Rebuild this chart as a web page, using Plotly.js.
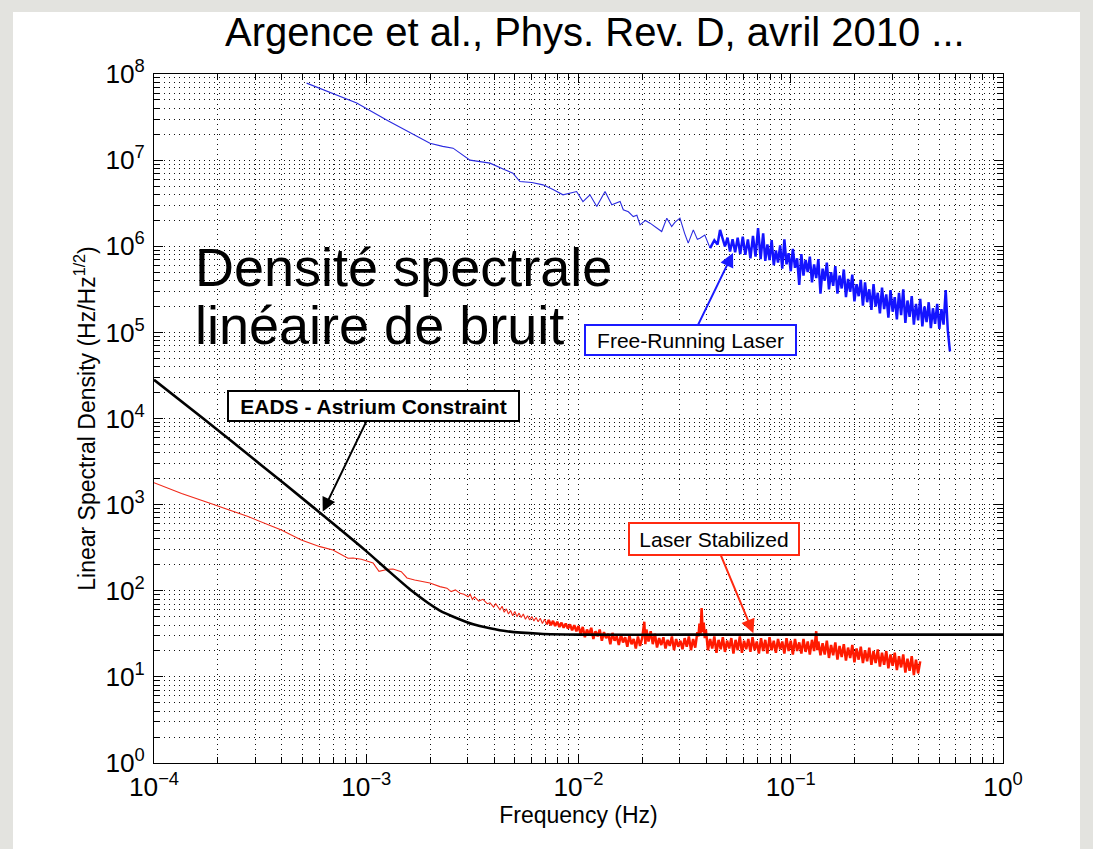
<!DOCTYPE html>
<html>
<head>
<meta charset="utf-8">
<script src="https://cdn.plot.ly/plotly-3.0.1.min.js"></script>
<style>
  html, body { margin: 0; padding: 0; width: 1093px; height: 849px; overflow: hidden; background: #e3e3df; }
  #card { position: absolute; left: 13px; top: 12px; width: 1067px; height: 837px; background: #ffffff; }
  #plot { position: absolute; left: 0; top: 0; width: 1093px; height: 849px; }
</style>
</head>
<body>
<div id="card"></div>
<div id="plot"></div>
<script>
// Values, stored as decades (log10 of Hz and of Hz/Hz^1/2)
const freeRunLogF = [
  -3.281,-3.15,-3.045,-2.90,-2.80,-2.70,-2.64,-2.591,-2.511,-2.417,
  -2.35,-2.309,-2.276,-2.22,-2.167,-2.12,-2.073,-2.04,-2.009,-1.979,
  -1.946,-1.914,-1.875,-1.843,-1.804,-1.789,-1.765,-1.742,-1.725,-1.71,
  -1.685,-1.663,-1.635,-1.608,-1.584,-1.561,-1.545,-1.522,-1.50,-1.483,
  -1.459,-1.44,-1.428,-1.405,-1.38,-1.36,-1.345,-1.333,-1.31,-1.298,
  -1.286,-1.274,-1.262,-1.250,-1.238,-1.226,-1.214,-1.202,-1.190,-1.178,
  -1.166,-1.154,-1.142,-1.130,-1.120,
  -1.11,-1.10,-1.09,-1.08,-1.07,-1.06,-1.05,-1.04,-1.03,-1.02,
  -1.01,-1.00,-0.99,-0.98,-0.97,-0.96,-0.95,-0.94,-0.93,-0.92,
  -0.91,-0.90,-0.89,-0.88,-0.87,-0.86,-0.85,-0.84,-0.83,-0.82,
  -0.81,-0.80,-0.79,-0.78,-0.77,-0.76,-0.75,-0.74,-0.73,-0.72,
  -0.71,-0.70,-0.69,-0.68,-0.67,-0.66,-0.65,-0.64,-0.63,-0.62,
  -0.61,-0.60,-0.59,-0.58,-0.57,-0.56,-0.55,-0.54,-0.53,-0.52,
  -0.51,-0.50,-0.49,-0.48,-0.47,-0.46,-0.45,-0.44,-0.43,-0.42,
  -0.41,-0.40,-0.39,-0.38,-0.37,-0.36,-0.35,-0.34,-0.33,-0.32,
  -0.31,-0.30,-0.29,-0.28,-0.27,-0.26,-0.25
];
const freeRunLogPSD = [
  7.894,7.77,7.662,7.46,7.33,7.197,7.16,7.139,7.00,6.965,
  6.89,6.849,6.751,6.74,6.713,6.66,6.597,6.62,6.635,6.519,
  6.597,6.461,6.635,6.481,6.519,6.423,6.40,6.345,6.36,6.249,
  6.30,6.268,6.22,6.171,6.326,6.229,6.28,6.326,6.15,6.036,
  6.19,6.08,6.094,6.13,5.978,6.07,6.02,6.19,5.997,6.10,
  5.939,6.08,5.93,6.10,5.91,6.11,5.90,6.08,5.86,6.12,
  5.88,6.21,5.85,6.15,5.83,
  6.02,5.84,6.07,5.78,5.95,5.81,6.01,5.74,6.08,5.79,
  5.92,5.71,5.97,5.75,5.86,5.55,5.91,5.66,5.84,5.70,
  5.88,5.58,5.79,5.63,5.85,5.45,5.74,5.60,5.81,5.50,
  5.70,5.54,5.77,5.45,5.66,5.51,5.73,5.41,5.62,5.47,
  5.67,5.36,5.56,5.42,5.61,5.31,5.58,5.35,5.50,5.26,
  5.56,5.30,5.46,5.22,5.52,5.27,5.44,5.17,5.49,5.24,
  5.41,5.15,5.46,5.20,5.50,5.11,5.37,5.18,5.42,5.09,
  5.33,5.14,5.39,5.07,5.30,5.12,5.35,5.05,5.28,5.10,
  5.33,5.04,5.27,5.09,5.49,5.02,4.78
];
// index where the free-running record turns into a dense noise band
const freeRunDenseFrom = 44;

const stabilizedLogF = [
  -4.0,-3.87,-3.736,-3.65,-3.557,-3.438,-3.40,-3.306,-3.218,-3.157,
  -3.086,-3.062,-3.023,-2.968,-2.94,-2.897,-2.874,-2.835,-2.808,-2.772,
  -2.733,-2.70,-2.653,-2.62,-2.60,-2.58,-2.558,-2.54,-2.52,-2.51,
  -2.50,-2.49,-2.47,-2.45,-2.43,-2.417,-2.40,-2.39,-2.37,-2.36,
  -2.35,-2.34,-2.33,-2.32,-2.31,-2.30,-2.29,-2.28,-2.27,-2.26,
  -2.25,-2.24,-2.23,-2.22,-2.21,-2.20,-2.19,-2.18,-2.17,-2.16,
  -2.15,-2.14,-2.13,-2.12,-2.11,-2.10,-2.09,-2.08,-2.07,-2.06,
  -2.05,-2.04,-2.03,-2.02,-2.01,-2.00,
  -1.99,-1.98,-1.97,-1.96,-1.95,-1.94,-1.93,-1.92,-1.91,-1.90,
  -1.89,-1.88,-1.87,-1.86,-1.85,-1.84,-1.83,-1.82,-1.81,-1.80,
  -1.79,-1.78,-1.77,-1.76,-1.75,-1.74,-1.73,-1.72,-1.71,-1.70,
  -1.69,-1.685,-1.68,-1.67,-1.66,-1.65,-1.64,-1.63,-1.62,-1.61,
  -1.60,-1.59,-1.58,-1.57,-1.56,-1.55,-1.54,-1.53,-1.52,-1.51,
  -1.50,-1.49,-1.48,-1.47,-1.46,-1.45,-1.44,-1.435,-1.43,-1.425,
  -1.42,-1.415,-1.41,-1.405,-1.40,-1.39,-1.38,-1.37,-1.36,-1.35,
  -1.34,-1.33,-1.32,-1.31,-1.30,-1.29,-1.28,-1.27,-1.26,-1.25,
  -1.24,-1.23,-1.22,-1.21,-1.20,-1.19,-1.18,-1.17,-1.16,-1.15,
  -1.14,-1.13,-1.12,-1.11,-1.10,-1.09,-1.08,-1.07,-1.06,-1.05,
  -1.04,-1.03,-1.02,-1.01,-1.00,-0.99,-0.98,-0.97,-0.96,-0.95,
  -0.94,-0.93,-0.92,-0.91,-0.90,-0.89,-0.88,-0.875,-0.87,-0.86,
  -0.85,-0.84,-0.83,-0.82,-0.81,-0.80,-0.79,-0.78,-0.77,-0.76,
  -0.75,-0.74,-0.73,-0.72,-0.71,-0.70,-0.69,-0.68,-0.67,-0.66,
  -0.65,-0.64,-0.63,-0.62,-0.61,-0.60,-0.59,-0.58,-0.57,-0.56,
  -0.55,-0.54,-0.53,-0.52,-0.51,-0.50,-0.49,-0.48,-0.47,-0.46,
  -0.45,-0.44,-0.43,-0.42,-0.41,-0.40,-0.39
];
const stabilizedLogPSD = [
  3.255,3.13,3.016,2.94,2.861,2.744,2.706,2.59,2.512,2.474,
  2.377,2.381,2.366,2.323,2.225,2.25,2.253,2.222,2.149,2.125,
  2.106,2.09,2.048,2.03,1.99,2.01,1.97,1.96,1.93,1.96,
  1.90,1.93,1.88,1.90,1.85,1.86,1.81,1.85,1.78,1.82,
  1.75,1.79,1.73,1.77,1.71,1.76,1.70,1.74,1.69,1.73,
  1.67,1.71,1.66,1.70,1.65,1.69,1.64,1.68,1.62,1.67,
  1.61,1.66,1.60,1.65,1.59,1.64,1.58,1.63,1.57,1.62,
  1.56,1.61,1.54,1.60,1.53,1.59,
  1.50,1.58,1.46,1.55,1.49,1.57,1.44,1.53,1.47,1.55,
  1.42,1.52,1.45,1.50,1.38,1.51,1.42,1.47,1.37,1.49,
  1.40,1.46,1.35,1.48,1.38,1.44,1.33,1.47,1.36,1.45,
  1.64,1.38,1.55,1.41,1.53,1.38,1.50,1.34,1.45,1.37,
  1.46,1.33,1.43,1.36,1.47,1.31,1.44,1.35,1.42,1.32,
  1.45,1.35,1.47,1.31,1.44,1.34,1.52,1.47,1.62,1.50,
  1.80,1.52,1.63,1.45,1.55,1.31,1.44,1.33,1.47,1.28,
  1.43,1.32,1.46,1.29,1.42,1.33,1.45,1.27,1.43,1.31,
  1.47,1.28,1.42,1.32,1.44,1.29,1.46,1.31,1.41,1.27,
  1.45,1.30,1.43,1.27,1.46,1.31,1.42,1.28,1.44,1.32,
  1.41,1.27,1.45,1.30,1.42,1.26,1.44,1.30,1.40,1.27,
  1.44,1.29,1.41,1.26,1.43,1.30,1.53,1.31,1.41,1.25,
  1.39,1.26,1.42,1.22,1.37,1.25,1.40,1.20,1.36,1.23,
  1.38,1.19,1.34,1.22,1.37,1.17,1.33,1.20,1.35,1.16,
  1.31,1.18,1.34,1.14,1.30,1.16,1.32,1.12,1.28,1.14,
  1.30,1.10,1.26,1.13,1.28,1.08,1.24,1.11,1.26,1.05,
  1.21,1.07,1.24,1.02,1.20,1.04,1.18
];
// index where the stabilized record turns into a dense noise band
const stabilizedDenseFrom = 60;

const constraintLogF   = [-4.0,-3.768,-3.5,-3.265,-3.0,-2.904,-2.786,-2.653,-2.496,-2.338,-2.181,-2.0,-1.5,0];
const constraintLogPSD = [4.45,4.0,3.47,3.0,2.46,2.25,2.0,1.77,1.61,1.53,1.50,1.49,1.49,1.49];

const titleText = 'Argence et al., Phys. Rev. D, avril 2010 ...';
const overlayLines = ['Densité spectrale', 'linéaire de bruit'];
const labelFree = 'Free-Running Laser';
const labelEADS = '<b>EADS - Astrium Constraint</b>';
const labelStab = 'Laser Stabilized';
const xTitle = 'Frequency (Hz)';
const yTitle = 'Linear Spectral Density (Hz/Hz<sup>1/2</sup>)';
const powerAlias = { '1': '10<sup>0</sup>', '10': '10<sup>1</sup>' };

const toLin = a => a.map(v => Math.pow(10, v));
const FONT = 'Liberation Sans, Arial, Helvetica, sans-serif';

function part(f, p, a, b) { return { x: toLin(f.slice(a, b)), y: toLin(p.slice(a, b)) }; }

const stabThin  = part(stabilizedLogF, stabilizedLogPSD, 0, stabilizedDenseFrom + 1);
const stabDense = part(stabilizedLogF, stabilizedLogPSD, stabilizedDenseFrom);
const freeThin  = part(freeRunLogF, freeRunLogPSD, 0, freeRunDenseFrom + 1);
const freeDense = part(freeRunLogF, freeRunLogPSD, freeRunDenseFrom);

const RED = '#ff1a00', BLUE = '#1414ff';
const traces = [
  Object.assign(stabThin,  { type: 'scatter', mode: 'lines', line: { color: '#f02818', width: 1.1 } }),
  Object.assign(stabDense, { type: 'scatter', mode: 'lines', line: { color: RED, width: 2.5 } }),
  Object.assign(freeThin,  { type: 'scatter', mode: 'lines', line: { color: '#2a2ae0', width: 1.1 } }),
  Object.assign(freeDense, { type: 'scatter', mode: 'lines', line: { color: BLUE, width: 2.5 } }),
  { x: toLin(constraintLogF), y: toLin(constraintLogPSD), type: 'scatter', mode: 'lines',
    line: { color: '#000000', width: 2.6, shape: 'spline', smoothing: 0.6 } }
];

const gridDash = '1px,4px';
function axisCommon() {
  return {
    type: 'log', dtick: 1, exponentformat: 'power', labelalias: powerAlias,
    showline: true, linecolor: '#000', linewidth: 1, mirror: 'ticks',
    ticks: 'inside', ticklen: 9, tickwidth: 1, tickcolor: '#000',
    showgrid: true, gridcolor: '#111', gridwidth: 1, griddash: gridDash,
    zeroline: false,
    tickfont: { family: FONT, size: 21, color: '#000' },
    minor: { dtick: 'D1', ticks: 'inside', ticklen: 6, tickwidth: 1, tickcolor: '#000',
             showgrid: true, gridcolor: '#111', gridwidth: 1, griddash: gridDash }
  };
}

const xaxis = Object.assign(axisCommon(), {
  range: [-4, 0],
  ticklabelstandoff: 2,
  title: { text: xTitle, font: { family: FONT, size: 23, color: '#000' }, standoff: 5 }
});
const yaxis = Object.assign(axisCommon(), {
  range: [0, 8],
  ticklabelstandoff: 4,
  title: { text: yTitle, font: { family: FONT, size: 23, color: '#000' }, standoff: 3 }
});

const annotations = [
  { xref: 'x', yref: 'y', x: -3.816, y: 5.755, xanchor: 'left', yanchor: 'middle', showarrow: false,
    text: overlayLines[0], font: { family: FONT, size: 54, color: '#000' } },
  { xref: 'x', yref: 'y', x: -3.816, y: 5.09, xanchor: 'left', yanchor: 'middle', showarrow: false,
    text: overlayLines[1], font: { family: FONT, size: 54, color: '#000' } },
  { xref: 'x', yref: 'y', x: -1.272, y: 5.923, ax: -42.5, ay: 87.5, text: labelFree,
    showarrow: true, arrowhead: 2, arrowsize: 1.4, arrowwidth: 2, arrowcolor: '#1a1aff', standoff: 0,
    bgcolor: '#fff', bordercolor: '#1a1aff', borderwidth: 2, borderpad: 1, width: 207, height: 26,
    font: { family: FONT, size: 21, color: '#000' } },
  { xref: 'x', yref: 'y', x: -3.205, y: 2.919, ax: 51, ay: -105.5, text: labelEADS,
    showarrow: true, arrowhead: 2, arrowsize: 1.4, arrowwidth: 2, arrowcolor: '#000', standoff: 0,
    bgcolor: '#fff', bordercolor: '#000', borderwidth: 2, borderpad: 1, width: 287, height: 26,
    font: { family: FONT, size: 21, color: '#000' } },
  { xref: 'x', yref: 'y', x: -1.176, y: 1.506, ax: -39.5, ay: -94.6, text: labelStab,
    showarrow: true, arrowhead: 2, arrowsize: 1.4, arrowwidth: 2, arrowcolor: '#ff2a10', standoff: 0,
    bgcolor: '#fff', bordercolor: '#ff2a10', borderwidth: 2, borderpad: 1, width: 166, height: 28,
    font: { family: FONT, size: 21, color: '#000' } }
];

const layout = {
  width: 1093, height: 849,
  margin: { l: 154, r: 90, t: 74, b: 86, pad: 0 },
  paper_bgcolor: 'rgba(0,0,0,0)', plot_bgcolor: '#ffffff',
  showlegend: false, hovermode: false,
  font: { family: FONT, color: '#000' },
  title: { text: titleText, font: { family: FONT, size: 40, color: '#000' },
           xref: 'container', x: 0.5443, xanchor: 'center', yref: 'container', y: 0.962, yanchor: 'middle' },
  xaxis: xaxis, yaxis: yaxis,
  annotations: annotations
};

Plotly.newPlot('plot', traces, layout, { staticPlot: true, displayModeBar: false });
</script>
</body>
</html>
